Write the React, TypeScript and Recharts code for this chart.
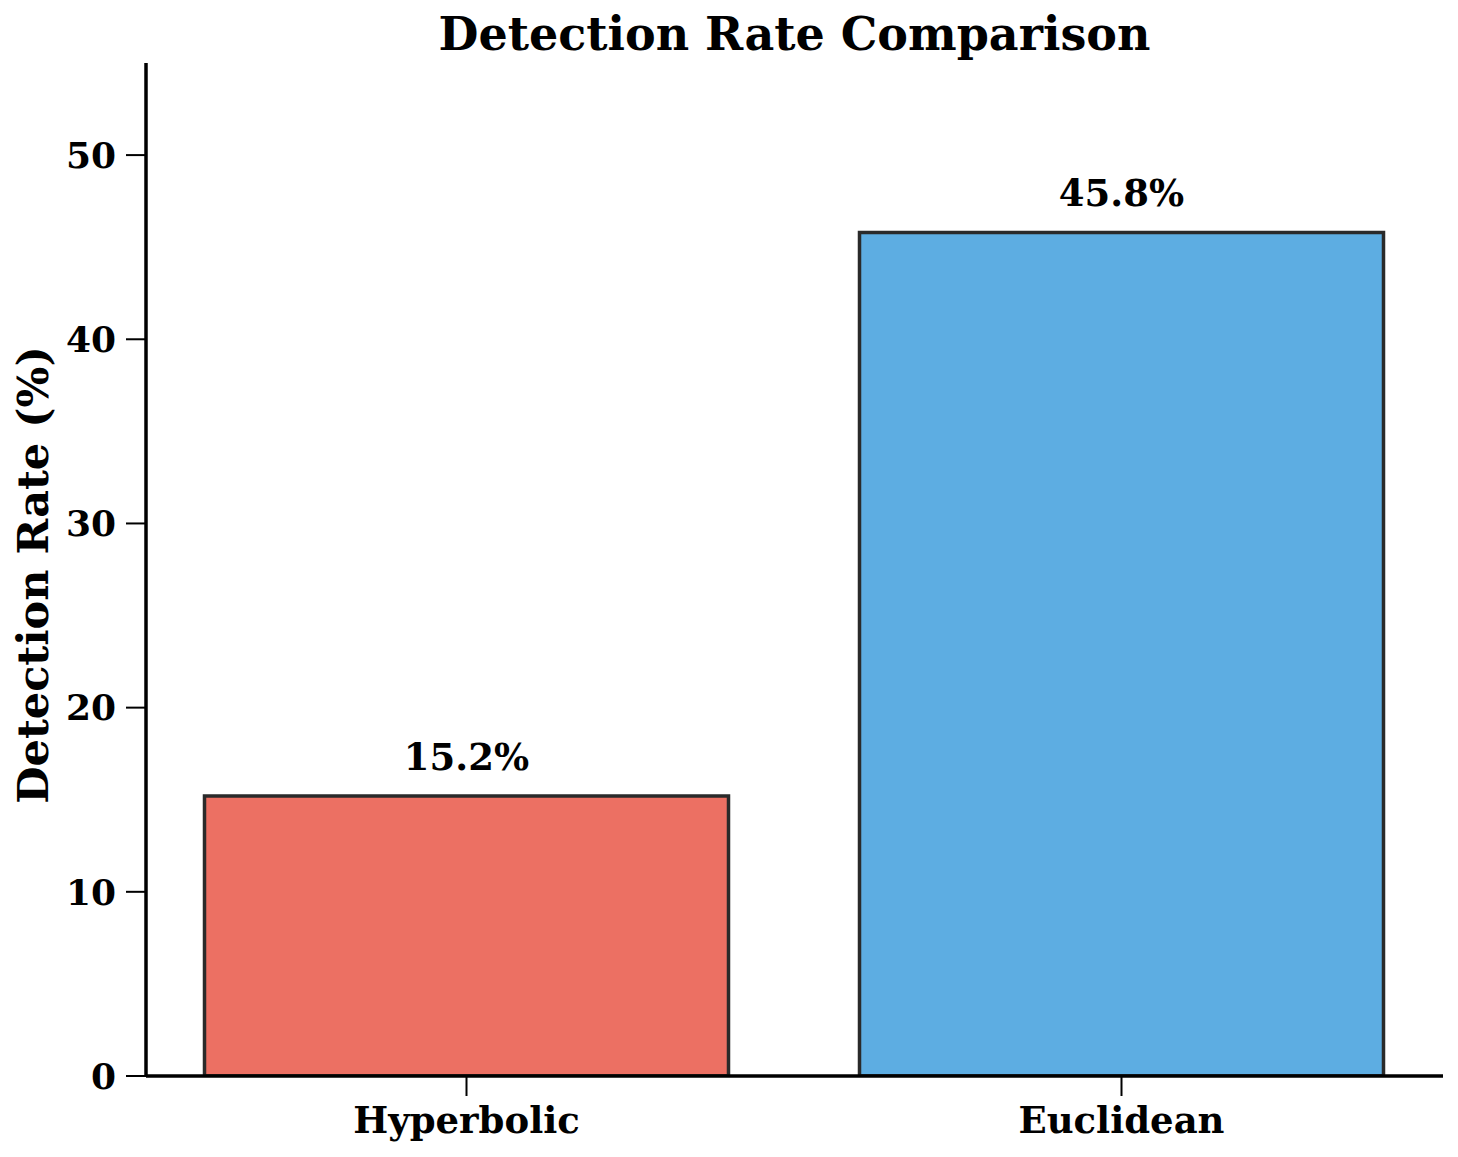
import React from 'react';
import { BarChart, Bar, XAxis, YAxis, Cell, LabelList } from 'recharts';

// values
const categories = ['Hyperbolic', 'Euclidean'];
const rates = [15.2, 45.8];
const barColors = ['#EC7063', '#5DADE2'];
const yTicks = [0, 10, 20, 30, 40, 50];

const data = categories.map((name, i) => ({ name, rate: rates[i] }));

const FONT = '"DejaVu Serif", serif';

export default function App() {
  return (
    <div style={{ position: 'absolute', left: 0, top: 0, width: 1458, height: 1157, background: '#fff', fontFamily: FONT }}>
      {/* title */}
      <div
        style={{
          position: 'absolute', left: 146, width: 1297, top: 6, textAlign: 'center',
          fontSize: 46, fontWeight: 'bold', lineHeight: '56px', color: '#000',
        }}
      >
        Detection Rate Comparison
      </div>
      <BarChart
        width={1458}
        height={1157}
        data={data}
        margin={{ top: 63, right: 15, bottom: 0, left: 0 }}
        barCategoryGap="10%"
      >
        <XAxis
          dataKey="name"
          height={81}
          padding={{ left: -7, right: -6 }}
          axisLine={{ stroke: '#000', strokeWidth: 3.5 }}
          tickLine={{ stroke: '#000', strokeWidth: 2 }}
          tickSize={20}
          tickMargin={11}
          tick={{ fill: '#000', fontSize: 37, fontWeight: 'bold', fontFamily: FONT }}
        />
        <YAxis
          width={146}
          domain={[0, 55]}
          ticks={yTicks}
          allowDataOverflow
          axisLine={{ stroke: '#000', strokeWidth: 3.5 }}
          tickLine={{ stroke: '#000', strokeWidth: 2 }}
          tickSize={20}
          tickMargin={10}
          tick={{ fill: '#000', fontSize: 36, fontWeight: 'bold', fontFamily: FONT }}
          label={{
            content: () => (
              <text
                x={48}
                y={575}
                transform="rotate(-90 48 575)"
                textAnchor="middle"
                fill="#000"
                style={{ fontSize: 43, fontWeight: 'bold', fontFamily: FONT }}
              >
                Detection Rate (%)
              </text>
            ),
          }}
        />
        <Bar dataKey="rate" stroke="#2a2a2a" strokeWidth={3.5} isAnimationActive={false}>
          {data.map((d, i) => (
            <Cell key={d.name} fill={barColors[i]} />
          ))}
          <LabelList
            dataKey="rate"
            position="top"
            offset={26}
            formatter={(v: number) => `${v.toFixed(1)}%`}
            style={{ fill: '#000', fontSize: 37, fontWeight: 'bold', fontFamily: FONT }}
          />
        </Bar>
      </BarChart>
    </div>
  );
}
